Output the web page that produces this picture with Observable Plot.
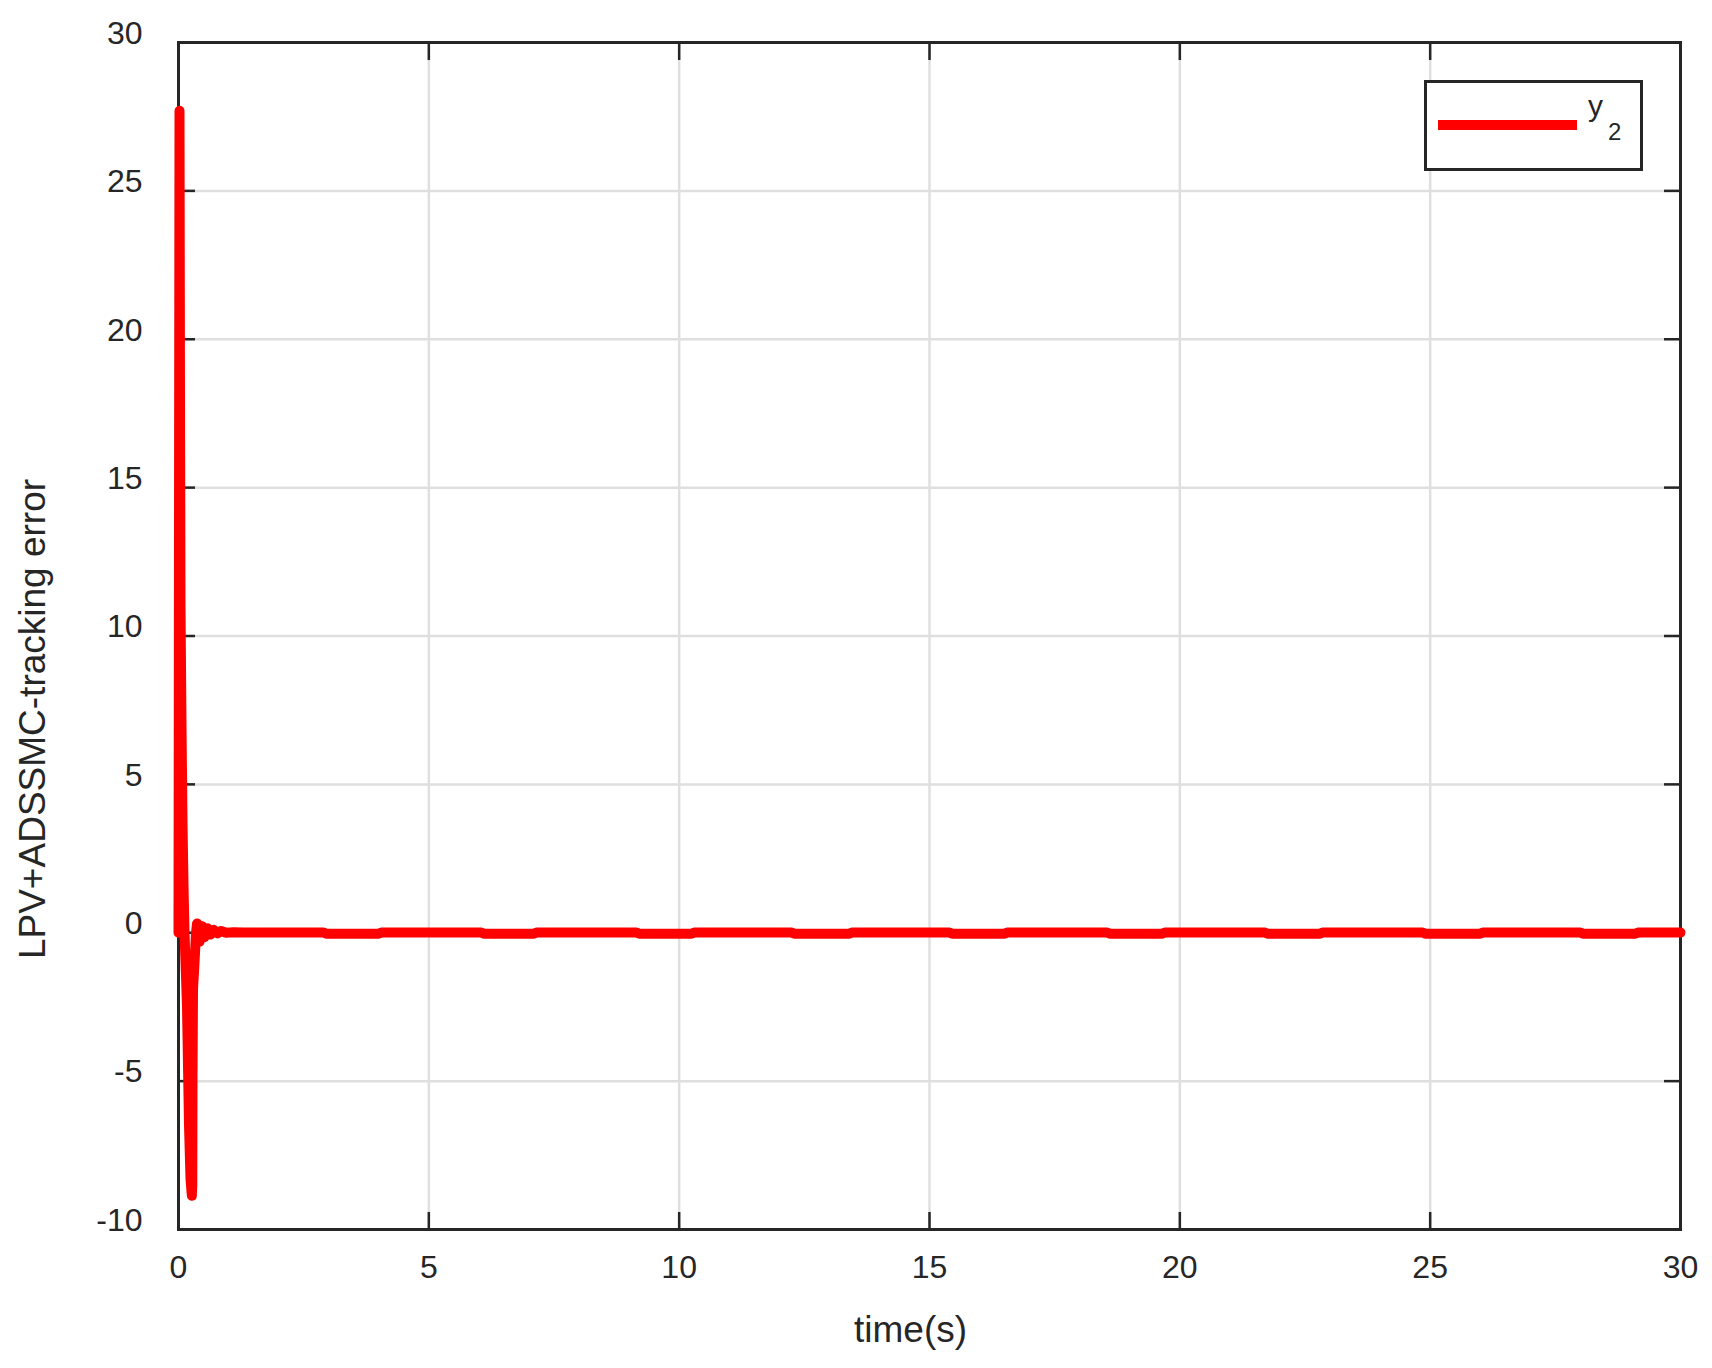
<!DOCTYPE html>
<html>
<head>
<meta charset="utf-8">
<script src="https://cdn.jsdelivr.net/npm/d3@7"></script>
<script src="https://cdn.jsdelivr.net/npm/@observablehq/plot@0.6"></script>
<style>
html, body { margin: 0; padding: 0; background: #fff; }
#wrap { position: relative; width: 1712px; height: 1368px; }
.legend { position: absolute; left: 1424px; top: 80px; width: 219px; height: 91px; box-sizing: border-box;
  border: 3px solid #262626; background: #fff; font-family: "Liberation Sans", Arial, sans-serif; color: #262626; }
.legend .sw { position: absolute; left: 11px; top: 37px; width: 139px; height: 10px; background: #ff0000; }
.legend .t { position: absolute; line-height: 1; white-space: nowrap; }
</style>
</head>
<body>
<div id="wrap"></div>
<script>
// Data
const time  = [0, 0.02, 0.03, 0.04, 0.06, 0.08, 0.10, 0.12, 0.17, 0.21, 0.24, 0.266, 0.275, 0.28, 0.29, 0.32, 0.35, 0.37,
  0.42, 0.47, 0.52, 0.58, 0.64, 0.70, 0.78, 0.85, 0.95, 1.1, 1.3,
  2.9, 2.95, 4.0, 4.05, 6.05, 6.1, 7.1, 7.15, 9.15, 9.2, 10.25, 10.3, 12.25, 12.3, 13.4, 13.45,
  15.4, 15.45, 16.5, 16.55, 18.55, 18.6, 19.65, 19.7, 21.7, 21.75, 22.8, 22.85, 24.85, 24.9, 26.0, 26.05,
  28.0, 28.05, 29.1, 29.15, 30];
const error = [0, 27.7, 18, 11, 7, 3.7, 1.6, 0, -2.5, -6.5, -8.3, -8.86, -8.5, -4.8, -1.9, -1.0, 0, 0.31,
  -0.3, 0.22, -0.15, 0.15, -0.06, 0.1, -0.02, 0.06, 0, 0.02, 0.005,
  0.005, -0.03, -0.03, 0.005, 0.005, -0.03, -0.03, 0.005, 0.005, -0.03, -0.03, 0.005, 0.005, -0.03, -0.03, 0.005,
  0.005, -0.03, -0.03, 0.005, 0.005, -0.03, -0.03, 0.005, 0.005, -0.03, -0.03, 0.005, 0.005, -0.03, -0.03, 0.005,
  0.005, -0.03, -0.03, 0.005, 0.005];
const xTicks = [0, 5, 10, 15, 20, 25, 30];
const yTicks = [-10, -5, 0, 5, 10, 15, 20, 25, 30];
const xLabel = "time(s)";
const yLabel = "LPV+ADSSMC-tracking error";
const seriesName = "y";
const seriesSub = "2";

const data = time.map((t, i) => ({t, v: error[i]}));
const ink = "#262626";
const plain = d => String(d);
const tickOpts = {tickFormat: () => "", label: null, stroke: ink, strokeWidth: 2.5, tickSize: -17};

const chart = Plot.plot({
  width: 1712, height: 1368,
  marginLeft: 178, marginRight: 32, marginTop: 42, marginBottom: 139,
  x: {domain: [0, 30]},
  y: {domain: [-10, 30]},
  style: {fontFamily: '"Liberation Sans", Arial, sans-serif', color: ink, background: "#fff"},
  marks: [
    Plot.gridX(xTicks, {stroke: "#dfdfdf", strokeOpacity: 1, strokeWidth: 2.5}),
    Plot.gridY(yTicks, {stroke: "#dfdfdf", strokeOpacity: 1, strokeWidth: 2.5}),
    Plot.axisX(xTicks, {anchor: "bottom", ...tickOpts}),
    Plot.axisX(xTicks, {anchor: "top", ...tickOpts}),
    Plot.axisY(yTicks, {anchor: "left", ...tickOpts}),
    Plot.axisY(yTicks, {anchor: "right", ...tickOpts}),
    Plot.axisX(xTicks, {anchor: "bottom", tickSize: 0, tickPadding: 26, fontSize: 32, label: null, fill: ink, tickFormat: plain}),
    Plot.axisY(yTicks, {anchor: "left", tickSize: 0, tickPadding: 36, fontSize: 32, dy: -9, label: null, fill: ink, tickFormat: plain}),
    Plot.frame({stroke: ink, strokeWidth: 3}),
    Plot.line(data, {x: "t", y: "v", stroke: "#ff0000", strokeWidth: 10, strokeLinejoin: "round"}),
    Plot.text([yLabel], {text: d => d, frameAnchor: "left", textAnchor: "middle", lineAnchor: "middle", rotate: -90, fontSize: 37, dx: -145, dy: 83, fill: ink}),
    Plot.text([xLabel], {text: d => d, frameAnchor: "bottom", textAnchor: "middle", lineAnchor: "middle", fontSize: 37, dx: -19, dy: 101, fill: ink})
  ]
});

const wrap = document.getElementById("wrap");
wrap.appendChild(chart);
const leg = document.createElement("div");
leg.className = "legend";
leg.innerHTML = `<div class="sw"></div><span class="t" style="left:161px;top:8px;font-size:30px">${seriesName}</span><span class="t" style="left:181px;top:37px;font-size:24px">${seriesSub}</span>`;
wrap.appendChild(leg);
</script>
</body>
</html>
